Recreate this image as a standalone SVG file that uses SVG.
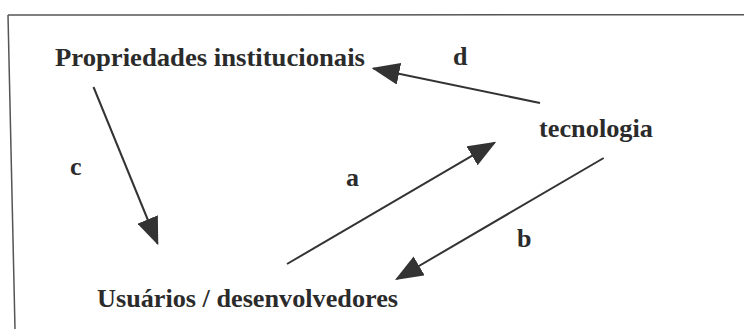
<svg xmlns="http://www.w3.org/2000/svg" width="744" height="329" viewBox="0 0 744 329">
  <style>
    .t { font-family: "Liberation Serif", "Times New Roman", serif; font-weight: bold; font-size: 26px; fill: #2b2b2b; }
    .c { stroke: #333; stroke-width: 2; fill: none; }
    .frame { stroke: #555; stroke-width: 1.5; fill: none; }
  </style>
  <defs>
    <marker id="ah" viewBox="0 -11 28 22" refX="26" refY="0" markerWidth="28" markerHeight="22" markerUnits="userSpaceOnUse" orient="auto">
      <path d="M0,-11 L28,0 L0,11 z" fill="#333"/>
    </marker>
  </defs>
  <rect width="744" height="329" fill="#fff"/>
  <g id="frame">
    <line class="frame" x1="8" y1="15" x2="744" y2="14.7"/>
    <line class="frame" x1="8" y1="15" x2="15" y2="329"/>
  </g>
  <g id="node-propriedades">
    <text class="t" x="55" y="66" textLength="310" lengthAdjust="spacingAndGlyphs">Propriedades institucionais</text>
  </g>
  <g id="node-tecnologia">
    <text class="t" x="539" y="137" textLength="114" lengthAdjust="spacingAndGlyphs">tecnologia</text>
  </g>
  <g id="node-usuarios">
    <text class="t" x="97" y="307" textLength="301" lengthAdjust="spacingAndGlyphs">Usuários / desenvolvedores</text>
  </g>
  <g id="connectors">
    <line class="c" x1="93.5" y1="87" x2="157.5" y2="243.5" marker-end="url(#ah)"/>
    <line class="c" x1="540" y1="103" x2="373.5" y2="68.5" marker-end="url(#ah)"/>
    <line class="c" x1="287" y1="264" x2="494.5" y2="142.7" marker-end="url(#ah)"/>
    <line class="c" x1="603.7" y1="158" x2="396.7" y2="279" marker-end="url(#ah)"/>
    <text class="t" x="453" y="65">d</text>
    <text class="t" x="70" y="175">c</text>
    <text class="t" x="346" y="186">a</text>
    <text class="t" x="517" y="247">b</text>
  </g>
</svg>
